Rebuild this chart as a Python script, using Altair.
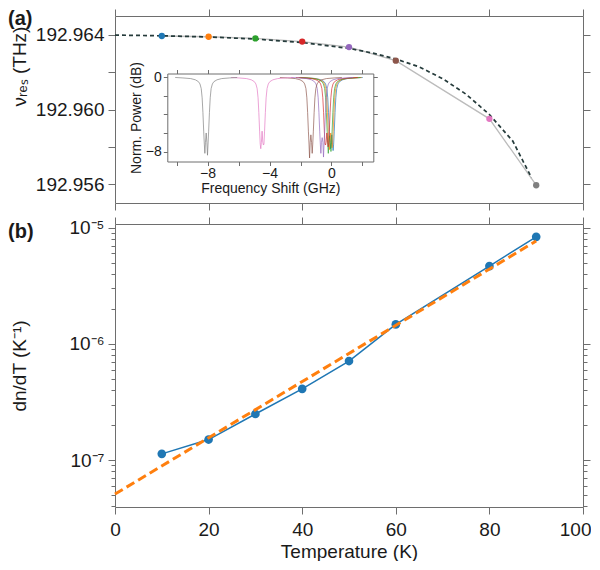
import altair as alt
import pandas as pd

# ---------------- data ----------------
temps = [10, 20, 30, 40, 50, 60, 80, 90]
point_colors = ["#1f77b4", "#ff7f0e", "#2ca02c", "#d62728",
                "#9467bd", "#8c564b", "#e377c2", "#7f7f7f"]
nu_res = [192.96393, 192.96389, 192.96380, 192.96363,
          192.96334, 192.96261, 192.95950, 192.95595]

fit_T = [0, 10, 20, 30, 40, 50, 55, 60, 65, 70, 75, 80, 85, 89]
fit_nu = [192.96398, 192.96394, 192.96388, 192.96377, 192.96358, 192.96327,
          192.96302, 192.96270, 192.96228, 192.96165, 192.96082, 192.95973,
          192.95831, 192.95635]

dndt = [1.13e-7, 1.50e-7, 2.49e-7, 4.10e-7, 7.11e-7, 1.47e-6, 4.67e-6, 8.34e-6]
dndt_fit_T = [0, 90]
dndt_fit = [5.09e-8, 7.69e-6]

# inset: resonance dips (GHz shift, dB)
inset_centers = [0.02, -0.05, -0.12, -0.30, -0.60, -1.33, -4.48, -8.09]
inset_min_left = [-7.7, -7.8, -8.2, -7.3, -8.2, -8.7, -7.7, -8.2]
inset_mid = [-6.2, -6.0, -6.3, -6.0, -6.5, -6.2, -5.8, -6.0]
inset_min_right = [-7.9, -7.6, -8.0, -7.5, -8.6, -8.2, -7.3, -8.4]
profile_offset = [-2.0, -1.5, -1.0, -0.7, -0.5, -0.4, -0.32, -0.26, -0.21, -0.16,
                  -0.12, -0.085, -0.045, 0.0, 0.045, 0.085, 0.12, 0.16, 0.21,
                  0.26, 0.32, 0.4, 0.5, 0.7, 1.0, 1.5, 2.0]
profile_db = [0.0, -0.05, -0.12, -0.25, -0.45, -0.7, -1.2, -2.2, -3.8, -5.8,
              -7.2, None, -7.0, None, -7.0, None, -7.2, -5.8, -3.8,
              -2.2, -1.2, -0.7, -0.45, -0.25, -0.12, -0.05, 0.0]

# ---------------- tables ----------------
top_df = pd.DataFrame({"T": temps, "nu": nu_res, "c": point_colors})
fit_df = pd.DataFrame({"T": fit_T, "nu": fit_nu})
bot_df = pd.DataFrame({"T": temps, "v": dndt})
bfit_df = pd.DataFrame({"T": dndt_fit_T, "v": dndt_fit})

rows = []
for i, c0 in enumerate(inset_centers):
    for j, (off, db) in enumerate(zip(profile_offset, profile_db)):
        if j == 11:
            db = inset_min_left[i]
        elif j == 13:
            db = inset_mid[i]
        elif j == 15:
            db = inset_min_right[i]
        rows.append({"trace": i, "j": j, "f": c0 + off, "db": db, "c": point_colors[i]})
inset_df = pd.DataFrame(rows)

# ---------------- style ----------------
FONT = "Liberation Sans"
AX = "#6e6e6e"
TXT = "#1a1a1a"
W = 468
H_TOP = 187
H_BOT = 283

def ax(**kw):
    base = dict(domainColor=AX, tickColor=AX, labelColor=TXT, titleColor=TXT,
                labelFont=FONT, titleFont=FONT, grid=False, tickSize=7,
                domainWidth=1, tickWidth=1, labelFontSize=19, titleFontSize=19,
                titleFontWeight="normal", labelFlush=False)
    base.update(kw)
    return alt.Axis(**base)

xticks = [0, 20, 40, 60, 80, 100]
ytop_ticks = [192.956, 192.958, 192.960, 192.962, 192.964]

xs = alt.Scale(domain=[0, 100], nice=False, zero=False)
ys_top = alt.Scale(domain=[192.955, 192.965], nice=False, zero=False)

# ---------------- top panel ----------------
gray_line = alt.Chart(top_df).mark_line(color="#bcbcbc", strokeWidth=1.3).encode(
    x=alt.X("T:Q", scale=xs, axis=ax(orient="bottom", values=xticks, labels=False, title=None)),
    y=alt.Y("nu:Q", scale=ys_top, axis=ax(
        orient="left", values=ytop_ticks, labelPadding=4,
        labelExpr="indexof(['192.956','192.960','192.964'], format(datum.value,'.3f')) >= 0 ? format(datum.value,'.3f') : ''",
        title="\u03bd\u1d63\u2091\u209b (THz)", titleX=-96, titleY=50,
        titleBaseline="middle")),
)

fit_line = alt.Chart(fit_df).mark_line(color="#253b3b", strokeWidth=1.7, strokeDash=[4, 3]).encode(
    x=alt.X("T:Q", scale=xs, axis=ax(orient="top", values=xticks, labels=False, title=None)),
    y=alt.Y("nu:Q", scale=ys_top, axis=ax(orient="right", values=ytop_ticks, labels=False, title=None)),
)

top_pts = alt.Chart(top_df).mark_circle(size=40, opacity=1).encode(
    x=alt.X("T:Q", scale=xs, axis=None),
    y=alt.Y("nu:Q", scale=ys_top, axis=None),
    color=alt.Color("c:N", scale=None),
)

# inset placement inside the top panel (pixels of the panel)
IX0, IX1, IY0, IY1 = 52.3, 258.3, 57.5, 145.5
ixs = alt.Scale(domain=[-10.6, 2.7], range=[IX0, IX1], nice=False, zero=False)
iys = alt.Scale(domain=[-9.08, 0.43], range=[IY1, IY0], nice=False, zero=False)
ixticks = [-10, -8, -6, -4, -2, 0, 2]
iyticks = [-8, -6, -4, -2, 0]

def iax(**kw):
    base = dict(tickSize=4, labelFontSize=14, titleFontSize=14, labelPadding=2)
    base.update(kw)
    return ax(**base)

inset_lines = alt.Chart(inset_df).mark_line(strokeWidth=1, opacity=0.68).encode(
    x=alt.X("f:Q", scale=ixs, axis=iax(
        orient="bottom", offset=-(H_TOP - IY1), values=ixticks, labelPadding=1,
        labelExpr="datum.value == -8 ? '\u22128' : datum.value == -4 ? '\u22124' : datum.value == 0 ? '0' : ''",
        title="Frequency Shift (GHz)", titlePadding=1)),
    y=alt.Y("db:Q", scale=iys, axis=iax(
        orient="left", offset=-IX0, values=iyticks,
        labelExpr="datum.value == -8 ? '\u22128' : datum.value == 0 ? '0' : ''",
        title="Norm. Power (dB)", titlePadding=2)),
    color=alt.Color("c:N", scale=None),
    detail="trace:N",
    order="j:Q",
)

inset_frame = alt.Chart(inset_df).mark_line(opacity=0).encode(
    x=alt.X("f:Q", scale=ixs, axis=iax(orient="top", offset=-IY0, values=ixticks, labels=False, title=None)),
    y=alt.Y("db:Q", scale=iys, axis=iax(orient="right", offset=-(W - IX1), values=iyticks, labels=False, title=None)),
    detail="trace:N",
)

lab_a = alt.Chart(alt.Data(values=[{"t": "(a)"}])).mark_text(
    align="left", baseline="top", fontSize=20, fontWeight="bold", font=FONT, color=TXT
).encode(x=alt.value(-107), y=alt.value(-7), text="t:N")

top = alt.layer(gray_line, fit_line, top_pts, inset_lines, inset_frame, lab_a).resolve_scale(
    x="independent", y="independent"
).properties(width=W, height=H_TOP)

# ---------------- bottom panel ----------------
ys_bot = alt.Scale(type="log", domain=[3.94e-8, 1.076e-5], nice=False)
log_ticks = [m * 10.0 ** e for e in (-8, -7, -6) for m in range(1, 10)] + [1e-5]
log_ticks = [v for v in log_ticks if v >= 3.94e-8]
major_test = "abs(log(datum.value)/LN10 - round(log(datum.value)/LN10)) < 0.001"
log_tick_size = {"condition": {"test": major_test, "value": 7}, "value": 4}
log_label = ("datum.value > 0.9e-5 && datum.value < 1.1e-5 ? '10\u207b\u2075' : "
             "datum.value > 0.9e-6 && datum.value < 1.1e-6 ? '10\u207b\u2076' : "
             "datum.value > 0.9e-7 && datum.value < 1.1e-7 ? '10\u207b\u2077' : ''")

last_test = "datum.value == 100"
blue_line = alt.Chart(bot_df).mark_line(color="#1f77b4", strokeWidth=1.5).encode(
    x=alt.X("T:Q", scale=xs, axis=ax(
        orient="bottom", values=xticks, labelPadding=6,
        labelAlign={"condition": {"test": last_test, "value": "right"}, "value": "center"},
        labelOffset={"condition": {"test": last_test, "value": 8}, "value": 0},
        title="Temperature (K)", titlePadding=3)),
    y=alt.Y("v:Q", scale=ys_bot, axis=ax(
        orient="left", values=log_ticks, tickSize=log_tick_size, labelPadding=4,
        labelExpr=log_label, labelOverlap=False,
        title="dn/dT (K\u207b\u00b9)", titleX=-96, titleBaseline="middle")),
)

blue_pts = alt.Chart(bot_df).mark_circle(size=75, color="#1f77b4", opacity=1).encode(
    x=alt.X("T:Q", scale=xs, axis=None),
    y=alt.Y("v:Q", scale=ys_bot, axis=None),
)

orange_fit = alt.Chart(bfit_df).mark_line(color="#ff7f0e", strokeWidth=3, strokeDash=[9, 4.5]).encode(
    x=alt.X("T:Q", scale=xs, axis=ax(orient="top", values=xticks, labels=False, title=None)),
    y=alt.Y("v:Q", scale=ys_bot, axis=ax(orient="right", values=log_ticks, tickSize=log_tick_size,
                                          labels=False, title=None)),
)

lab_b = alt.Chart(alt.Data(values=[{"t": "(b)"}])).mark_text(
    align="left", baseline="top", fontSize=20, fontWeight="bold", font=FONT, color=TXT
).encode(x=alt.value(-107), y=alt.value(-2), text="t:N")

bottom = alt.layer(blue_line, blue_pts, orange_fit, lab_b).resolve_scale(
    x="independent", y="independent"
).properties(width=W, height=H_BOT)

chart = alt.vconcat(top, bottom, spacing=5).properties(padding=0).configure_view(stroke=None)

chart.save("out.html", embed_options={"renderer": "svg", "actions": False})
